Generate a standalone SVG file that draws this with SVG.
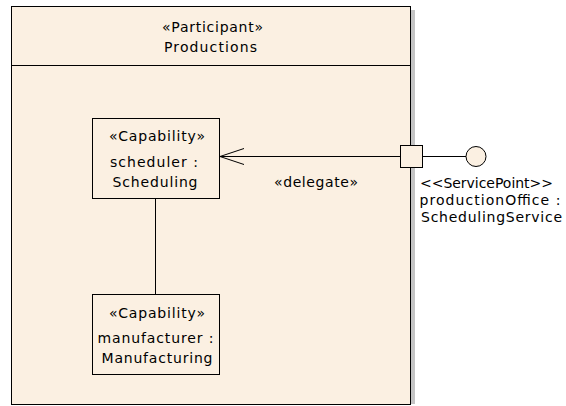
<svg xmlns="http://www.w3.org/2000/svg" width="566" height="406" viewBox="0 0 566 406">
<defs>
<style>
.box{fill:#FBF0E2;stroke:#000;stroke-width:1}
.shadow{fill:#C4C4C4}
.t{font-family:"DejaVu Sans","Liberation Sans",sans-serif;font-size:14px;fill:#000}
.c{text-anchor:middle}
.ln{stroke:#000;stroke-width:1;fill:none}
</style>
<marker id="open" markerWidth="26" markerHeight="18" refX="25" refY="9" orient="auto" markerUnits="userSpaceOnUse">
<polyline points="1,1 25,9 1,17" fill="none" stroke="#000" stroke-width="1"/>
</marker>
</defs>
<rect width="566" height="406" fill="#FFFFFF"/>
<g id="productions">
<rect class="shadow" x="14" y="10" width="401" height="394"/>
<rect class="box" x="11.5" y="6.5" width="399" height="398"/>
<line class="ln" x1="11.5" y1="65.5" x2="410.5" y2="65.5"/>
<text class="t c" x="212.5" y="31.5" textLength="101" lengthAdjust="spacing">«Participant»</text>
<text class="t c" x="210.5" y="51.5" textLength="93" lengthAdjust="spacing">Productions</text>
</g>
<g id="scheduler">
<rect class="box" x="92.5" y="118.5" width="127" height="80"/>
<text class="t c" x="157" y="141" textLength="96" lengthAdjust="spacing">«Capability»</text>
<text class="t c" x="154" y="167" textLength="88" lengthAdjust="spacing">scheduler :</text>
<text class="t c" x="155" y="187" textLength="85" lengthAdjust="spacing">Scheduling</text>
</g>
<g id="manufacturer">
<rect class="box" x="92.5" y="294.5" width="127" height="80"/>
<text class="t c" x="157" y="318" textLength="96" lengthAdjust="spacing">«Capability»</text>
<text class="t c" x="155.5" y="343" textLength="116" lengthAdjust="spacing">manufacturer :</text>
<text class="t c" x="157" y="363" textLength="111" lengthAdjust="spacing">Manufacturing</text>
</g>
<g id="connectors">
<line class="ln" x1="400.5" y1="156.5" x2="220" y2="156.5" marker-end="url(#open)"/>
<line class="ln" x1="155.5" y1="198.5" x2="155.5" y2="294.5"/>
<line class="ln" x1="422.5" y1="156.5" x2="466" y2="156.5"/>
<text class="t c" x="316" y="187" textLength="84" lengthAdjust="spacing">«delegate»</text>
</g>
<g id="productionOffice">
<rect class="box" x="400.5" y="145.5" width="22" height="22"/>
<text class="t" x="420" y="188" textLength="133" lengthAdjust="spacing">&lt;&lt;ServicePoint&gt;&gt;</text>
<text class="t" x="419.5" y="205" textLength="141" lengthAdjust="spacing">productionOffice :</text>
<text class="t" x="421" y="222" textLength="141" lengthAdjust="spacing">SchedulingService</text>
</g>
<g id="schedulingInterface">
<circle class="box" cx="476" cy="156.5" r="10"/>
</g>
</svg>
